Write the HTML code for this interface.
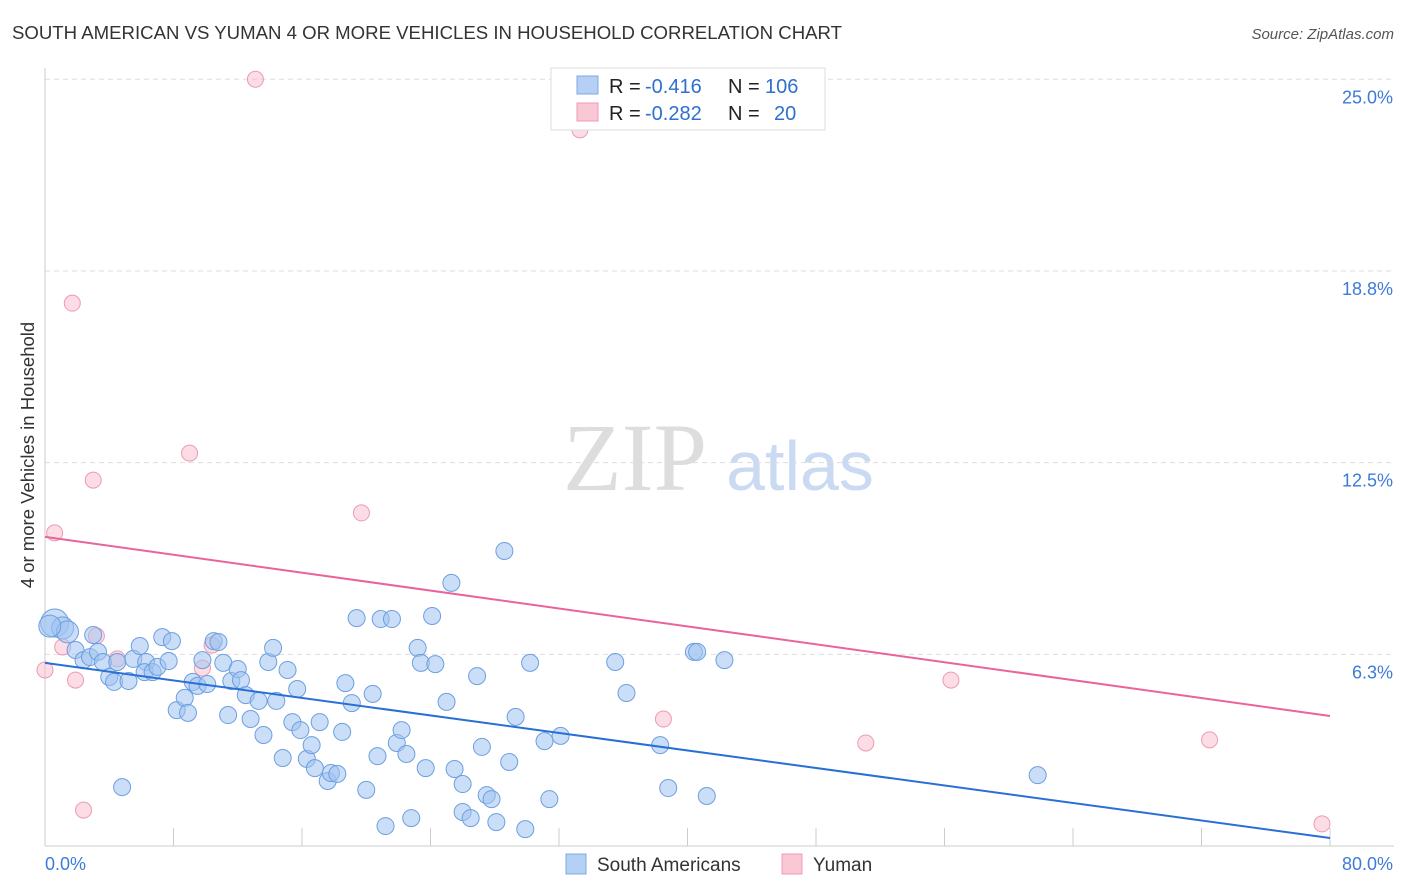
<!DOCTYPE html>
<html><head><meta charset="utf-8"><style>
body{margin:0;background:#fff;font-family:"Liberation Sans",sans-serif}
svg{display:block}
</style></head><body>
<svg id="chart" width="1406" height="892" xmlns="http://www.w3.org/2000/svg" font-family="Liberation Sans, sans-serif">
<text x="12" y="39" font-size="18.5" fill="#333" textLength="830" lengthAdjust="spacingAndGlyphs">SOUTH AMERICAN VS YUMAN 4 OR MORE VEHICLES IN HOUSEHOLD CORRELATION CHART</text>
<text x="1394" y="39" font-size="15" fill="#555" text-anchor="end" font-style="italic">Source: ZipAtlas.com</text>
<g>
<text x="635" y="490" font-size="96" fill="#ddd" text-anchor="middle" font-family="Liberation Serif, serif">ZIP</text>
<text x="800" y="490" font-size="70" fill="#c9daf2" text-anchor="middle">atlas</text>
</g>
<g id="grid"></g>
<g id="pts"></g>
<g id="lines"></g>
<text transform="translate(34,455) rotate(-90)" font-size="18.5" fill="#333" text-anchor="middle">4 or more Vehicles in Household</text>
<g>
<rect x="551" y="68" width="274" height="62" fill="#fff" stroke="#ddd"/>
<rect x="577" y="76" width="21" height="18" fill="#b6d0f5" stroke="#7ea8e3"/>
<rect x="577" y="103" width="21" height="18" fill="#fac7d5" stroke="#f09ab5"/>
<text x="609" y="93" font-size="20" fill="#222">R =</text>
<text x="645" y="93" font-size="20" fill="#2f6fd0">-0.416</text>
<text x="728" y="93" font-size="20" fill="#222">N =</text>
<text x="765" y="93" font-size="20" fill="#2f6fd0">106</text>
<text x="609" y="120" font-size="20" fill="#222">R =</text>
<text x="645" y="120" font-size="20" fill="#2f6fd0">-0.282</text>
<text x="728" y="120" font-size="20" fill="#222">N =</text>
<text x="774" y="120" font-size="20" fill="#2f6fd0">20</text>
</g>
<g>
<rect x="566" y="854" width="20" height="20" fill="#b6d0f5" stroke="#7ea8e3"/>
<text x="597" y="871" font-size="19" fill="#333">South Americans</text>
<rect x="782" y="854" width="20" height="20" fill="#fac7d5" stroke="#f09ab5"/>
<text x="813" y="871" font-size="19" fill="#333">Yuman</text>
</g>
</svg>
<script>
const blueX=[0.6,1.1,1.4,0.3,3.0,1.9,2.4,2.8,3.3,3.6,4.5,4.0,4.3,5.2,4.8,5.5,5.9,6.3,6.2,6.7,7.0,7.3,7.7,7.9,8.2,8.7,8.9,9.2,9.5,9.8,10.1,10.5,10.8,11.1,11.4,11.6,12.0,12.2,12.5,12.8,13.3,13.6,13.9,14.2,14.4,14.8,15.1,15.4,15.7,15.9,16.3,16.6,16.8,17.1,17.6,17.8,18.2,18.5,18.7,19.1,19.4,20.0,20.4,20.7,20.9,21.2,21.6,21.9,22.2,22.5,22.8,23.2,23.4,23.7,24.1,24.3,25.0,25.3,25.5,26.0,26.0,26.5,26.9,27.2,27.5,27.8,28.1,28.6,28.9,29.3,29.9,30.2,31.1,31.4,32.1,35.5,36.2,38.3,38.8,40.4,40.6,41.2,42.3,61.8];
const blueY=[7.27,7.11,6.98,7.17,6.88,6.39,6.06,6.16,6.33,6.00,6.00,5.51,5.35,5.38,1.92,6.10,6.52,6.00,5.67,5.67,5.84,6.81,6.03,6.68,4.43,4.83,4.34,5.35,5.22,6.06,5.28,6.68,6.65,5.97,4.27,5.38,5.77,5.41,4.92,4.14,4.73,3.62,6.00,6.46,4.73,2.87,5.74,4.04,5.12,3.78,2.84,3.29,2.54,4.04,2.12,2.38,2.35,3.72,5.31,4.66,7.43,1.83,4.96,2.93,7.40,0.65,7.40,3.36,3.78,3.00,0.91,6.46,5.97,2.54,7.50,5.93,4.70,8.58,2.51,2.02,1.11,0.91,5.54,3.23,1.66,1.53,0.78,9.62,2.74,4.21,0.55,5.97,3.42,1.53,3.59,6.00,4.99,3.29,1.89,6.33,6.33,1.63,6.06,2.31];
const pinkX=[0,0.6,1.1,1.7,1.9,2.4,3.0,3.2,4.5,9.0,9.8,10.4,13.1,19.7,33.3,38.5,51.1,56.4,72.5,79.5];
const pinkY=[5.74,10.21,6.49,17.7,5.41,1.17,11.93,6.85,6.10,12.81,5.80,6.55,25.0,10.86,23.35,4.14,3.36,5.41,3.46,0.72];
const blueTrend=[5.97,0.26];
const pinkTrend=[10.08,4.24];
const yTicks=[6.25,12.5,18.75,25];
const yTickLabels=["6.3%","12.5%","18.8%","25.0%"];
const xTicks=[0,8,16,24,32,40,48,56,64,72,80];
const NS="http://www.w3.org/2000/svg";
const X=v=>45+v*(1285/80);
const Y=v=>846-v*30.67;
function mk(tag,attrs,parent){const e=document.createElementNS(NS,tag);for(const k in attrs)e.setAttribute(k,attrs[k]);parent.appendChild(e);return e;}
const grid=document.getElementById('grid');
yTicks.forEach((t,i)=>{
 const l=mk('line',{x1:45,x2:1394,y1:Y(t),y2:Y(t),stroke:'#ddd','stroke-dasharray':'5,4'},grid);
 
 
 const tx=mk('text',{x:1393,y:Y(t)+24,'font-size':18,fill:'#3d7bd9','text-anchor':'end'},grid);
 tx.textContent=yTickLabels[i];
 
 
});
const ax=mk('line',{x1:45,x2:1394,y1:846,y2:846,stroke:'#ccc'},grid);


const ay=mk('line',{x1:45,x2:45,y1:68,y2:846,stroke:'#ccc'},grid);


xTicks.forEach(t=>{
 const l=mk('line',{x1:X(t),x2:X(t),y1:828,y2:846,stroke:'#ccc'},grid);
 
 
});
const xl0=mk('text',{x:45,y:870,'font-size':18,fill:'#3d7bd9'},grid);xl0.textContent="0.0%";


const xl1=mk('text',{x:1393,y:870,'font-size':18,fill:'#3d7bd9','text-anchor':'end'},grid);xl1.textContent="80.0%";


const pts=document.getElementById('pts');
pinkX.forEach((x,i)=>{
 const c=mk('circle',{cx:X(x),cy:Y(pinkY[i]),r:8,fill:'rgba(248,180,200,0.45)',stroke:'#ec9ab4','stroke-width':1},pts);
 
 
});
blueX.forEach((x,i)=>{
 const r=i<4?(i==0?14:11):8.5;
 const c=mk('circle',{cx:X(x),cy:Y(blueY[i]),r:r,fill:'rgba(160,195,240,0.55)',stroke:'#6d9fe0','stroke-width':1},pts);
 
 
});
const lines=document.getElementById('lines');
const bl=mk('line',{x1:X(0),y1:Y(blueTrend[0]),x2:X(80),y2:Y(blueTrend[1]),stroke:'#2a6fd6','stroke-width':2},lines);


const pl=mk('line',{x1:X(0),y1:Y(pinkTrend[0]),x2:X(80),y2:Y(pinkTrend[1]),stroke:'#e8649a','stroke-width':2},lines);


</script>
</body></html>
